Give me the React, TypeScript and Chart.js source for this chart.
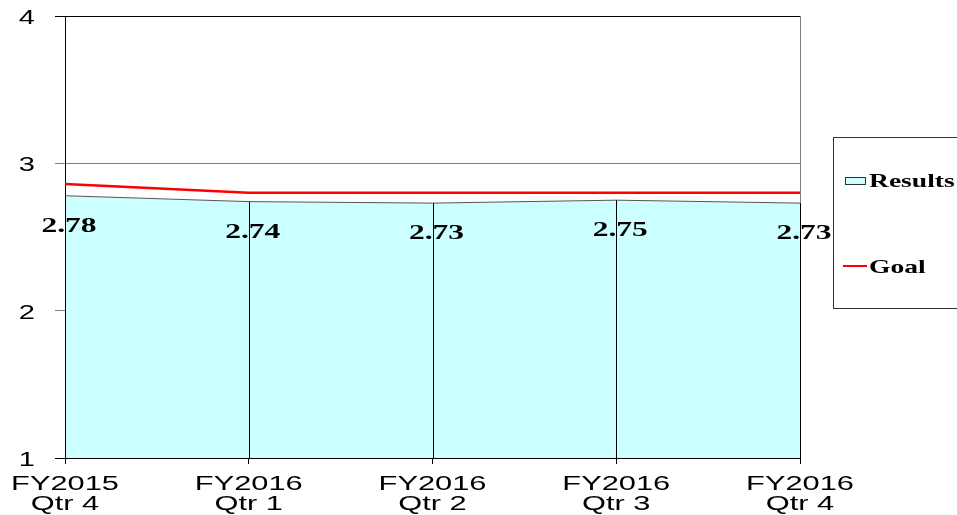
import React, { useEffect, useRef } from "react";
import { Chart, registerables } from "chart.js";
Chart.register(...registerables);

const categories: string[][] = [
  ["FY2015", "Qtr 4"],
  ["FY2016", "Qtr 1"],
  ["FY2016", "Qtr 2"],
  ["FY2016", "Qtr 3"],
  ["FY2016", "Qtr 4"],
];
const resultsValues = [2.78, 2.74, 2.73, 2.75, 2.73];
const goalValues = [2.86, 2.8, 2.8, 2.8, 2.8];
const seriesNames = ["Results", "Goal"];
const yMin = 1;
const yMax = 4;

const SANS = "'Liberation Sans', Arial, sans-serif";
const SERIF = "'Liberation Serif', 'Times New Roman', serif";

function stretchText(
  ctx: CanvasRenderingContext2D,
  text: string,
  x: number,
  y: number,
  align: CanvasTextAlign,
  font: string,
  sx: number,
  color = "#000"
) {
  ctx.save();
  ctx.font = font;
  ctx.fillStyle = color;
  ctx.textAlign = align;
  ctx.textBaseline = "alphabetic";
  ctx.translate(x, y);
  ctx.scale(sx, 1);
  ctx.fillText(text, 0, 0);
  ctx.restore();
}

const decorPlugin = {
  id: "decor",
  beforeDatasetsDraw(chart: any) {
    const { ctx, chartArea } = chart;
    ctx.save();
    ctx.strokeStyle = "#808080";
    ctx.lineWidth = 1;
    ctx.beginPath();
    const x = Math.round(chartArea.right) + 0.5;
    ctx.moveTo(x, chartArea.top);
    ctx.lineTo(x, chartArea.bottom);
    ctx.stroke();
    ctx.restore();
  },
  afterDatasetsDraw(chart: any) {
    const { ctx, chartArea } = chart;
    const xs = chart.scales.x;
    const ys = chart.scales.y;
    const meta = chart.getDatasetMeta(1);
    // drop lines
    ctx.save();
    ctx.strokeStyle = "#000";
    ctx.lineWidth = 1;
    meta.data.forEach((pt: any) => {
      const x = Math.round(pt.x) + 0.5;
      ctx.beginPath();
      ctx.moveTo(x, pt.y);
      ctx.lineTo(x, chartArea.bottom);
      ctx.stroke();
    });
    ctx.restore();
    // data labels
    meta.data.forEach((pt: any, i: number) => {
      stretchText(ctx, resultsValues[i].toFixed(2), pt.x + 4, pt.y + 36, "center", `bold 21px ${SERIF}`, 1.5);
    });
    // y tick labels
    ys.ticks.forEach((t: any) => {
      const y = ys.getPixelForValue(t.value);
      stretchText(ctx, String(t.value), 35, y + 8, "right", `20px ${SANS}`, 1.45);
    });
    // x tick labels
    categories.forEach((lines, i) => {
      const x = xs.getPixelForValue(i);
      lines.forEach((ln, j) => {
        stretchText(ctx, ln, x, chartArea.bottom + 32 + j * 20, "center", `20px ${SANS}`, 1.54);
      });
    });
    // legend
    ctx.save();
    ctx.strokeStyle = "#333";
    ctx.lineWidth = 1;
    ctx.strokeRect(833.5, 137.5, 140, 171);
    ctx.fillStyle = "#CCFFFF";
    ctx.fillRect(845, 177, 21, 7);
    ctx.strokeStyle = "#333";
    ctx.strokeRect(845.5, 177.5, 20, 7);
    ctx.strokeStyle = "#FF0000";
    ctx.lineWidth = 2;
    ctx.beginPath();
    ctx.moveTo(843, 266);
    ctx.lineTo(867, 266);
    ctx.stroke();
    ctx.restore();
    stretchText(ctx, seriesNames[0], 869, 187, "left", `bold 19px ${SERIF}`, 1.45);
    stretchText(ctx, seriesNames[1], 869, 273, "left", `bold 19px ${SERIF}`, 1.45);
  },
};

export default function App() {
  const ref = useRef<HTMLCanvasElement>(null);
  useEffect(() => {
    if (!ref.current) return;
    const chart = new Chart(ref.current, {
      type: "line",
      data: {
        labels: categories.map((c) => c.join(" ")),
        datasets: [
          {
            label: seriesNames[1],
            data: goalValues,
            borderColor: "#FF0000",
            borderWidth: 2.5,
            pointRadius: 0,
            fill: false,
            tension: 0,
          },
          {
            label: seriesNames[0],
            data: resultsValues,
            borderColor: "#555555",
            borderWidth: 1,
            backgroundColor: "#CCFFFF",
            pointRadius: 0,
            fill: "start",
            tension: 0,
          },
        ],
      },
      options: {
        responsive: false,
        animation: false,
        layout: { padding: { top: 16, right: 157, left: 0, bottom: 0 } },
        plugins: {
          legend: { display: false },
          tooltip: { enabled: false },
        },
        scales: {
          x: {
            offset: false,
            grid: {
              drawOnChartArea: false,
              drawTicks: true,
              tickLength: 6,
              color: "#000",
            },
            border: { color: "#000", width: 1 },
            ticks: { display: false },
            afterFit: (s: any) => {
              s.height = 57;
            },
          },
          y: {
            min: yMin,
            max: yMax,
            ticks: { display: false, stepSize: 1 },
            grid: {
              tickLength: 10,
              color: (c: any) =>
                c.tick && (c.tick.value === yMax || c.tick.value === yMin) ? "#000" : "#808080",
            },
            border: { color: "#000", width: 1 },
            afterFit: (s: any) => {
              s.width = 65;
            },
          },
        },
      },
      plugins: [decorPlugin],
    });
    return () => chart.destroy();
  }, []);
  return (
    <div style={{ position: "absolute", left: 0, top: 0, width: 957, height: 515, background: "#fff" }}>
      <canvas ref={ref} width={957} height={515} />
    </div>
  );
}
